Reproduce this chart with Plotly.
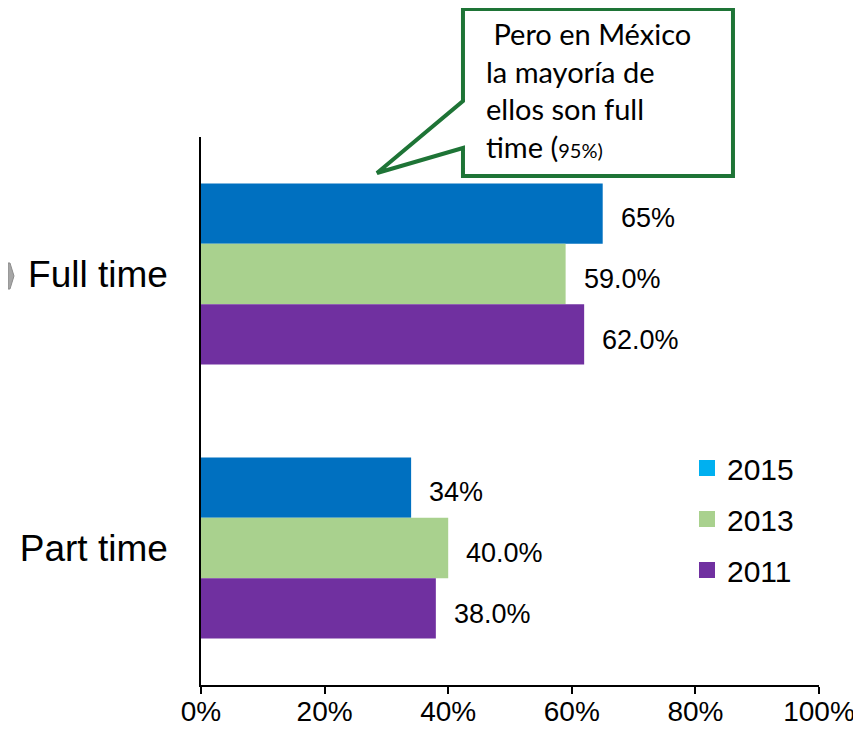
import plotly.graph_objects as go

categories = ["Full time", "Part time"]
years = ["2015", "2013", "2011"]
values_2015 = [65, 34]
values_2013 = [59.0, 40.0]
values_2011 = [62.0, 38.0]
labels_2015 = ["65%", "34%"]
labels_2013 = ["59.0%", "40.0%"]
labels_2011 = ["62.0%", "38.0%"]
x_ticks = [0, 20, 40, 60, 80, 100]
x_tick_labels = ["0%", "20%", "40%", "60%", "80%", "100%"]

bar_colors = ["#0070C0", "#A9D18E", "#7030A0"]
legend_colors = ["#00B0F0", "#A9D18E", "#7030A0"]

series = [values_2015, values_2013, values_2011]
labels = [labels_2015, labels_2013, labels_2011]

# page body has an 8px margin; compensate so the plot lands at target pixels
OFF = 8
W, H = 861 - OFF, 733 - OFF
L, R, T, B = 201, 819, 137, 685

fig = go.Figure()
for yr, vals, col in zip(years, series, bar_colors):
    fig.add_trace(go.Bar(y=categories, x=vals, orientation="h", name=yr,
                         marker=dict(color=col, line=dict(width=0)),
                         showlegend=False))

for yr, col in zip(years, legend_colors):
    fig.add_trace(go.Scatter(x=[None], y=[None], mode="markers", name=yr,
                             legendgroup=yr,
                             marker=dict(symbol="square", size=16, color=col)))

# data labels
for ti, (vals, labs) in enumerate(zip(series, labels)):
    for cat, v, lab in zip(categories, vals, labs):
        fig.add_annotation(x=v, y=cat, text=lab, showarrow=False,
                           xanchor="left", xshift=16,
                           yshift=(1 - ti) * 61 - 5,
                           font=dict(size=27, color="#000000",
                                     family="Liberation Sans, Arial, sans-serif"))

def px(xp):
    return (xp - L) / (R - L)
def py(yp):
    return (B - yp) / (B - T)

# callout box
pts = [(463, 9), (733, 9), (733, 176), (463, 176), (463, 148), (377, 173), (463, 101)]
path = "M " + " L ".join(f"{px(a):.4f},{py(b):.4f}" for a, b in pts) + " Z"
fig.add_shape(type="path", path=path, xref="paper", yref="paper",
              line=dict(color="#1E7436", width=4), fillcolor="#FFFFFF", layer="above")

fig.add_annotation(xref="paper", yref="paper", x=px(484), y=py(14),
                   xanchor="left", yanchor="top", align="left", showarrow=False,
                   text=" Pero en México<br>la mayoría de<br>ellos son full<br>time (<span style='font-size:20px'>95%)</span>",
                   font=dict(size=29, color="#000000", family="Lato, Carlito, sans-serif"))

# small gray shape at left edge
gpts = [(8, 263), (10, 263), (14, 276), (10, 289), (8, 289)]
gpath = "M " + " L ".join(f"{px(a):.4f},{py(b):.4f}" for a, b in gpts) + " Z"
fig.add_shape(type="path", path=gpath, xref="paper", yref="paper",
              line=dict(color="#8C8C8C", width=1), fillcolor="#A6A6A6")

fig.update_layout(
    width=W, height=H,
    margin=dict(l=L - OFF, r=861 - R, t=T - OFF, b=733 - B, pad=0),
    paper_bgcolor="#FFFFFF", plot_bgcolor="#FFFFFF",
    barmode="group", bargap=0.34, bargroupgap=0,
    font=dict(family="Liberation Sans, Arial, sans-serif", color="#000000"),
    showlegend=True,
    legend=dict(x=px(687), y=py(442), xanchor="left", yanchor="top",
                font=dict(size=30), bgcolor="rgba(0,0,0,0)",
                traceorder="grouped", tracegroupgap=9),
    xaxis=dict(range=[0, 100], tickvals=x_ticks, ticktext=x_tick_labels,
               automargin=False, ticklabelstandoff=-6,
               showgrid=False, zeroline=False, showline=True,
               linecolor="#000000", linewidth=1.5, ticks="outside",
               ticklen=7, tickcolor="#000000", tickwidth=1.5,
               tickfont=dict(size=28)),
    yaxis=dict(categoryorder="array", categoryarray=categories,
               autorange="reversed", automargin=False,
               showgrid=False, zeroline=False,
               showline=True, linecolor="#000000", linewidth=1.5,
               ticks="", ticklabelstandoff=24, tickfont=dict(size=37)),
)

fig.write_html("out.html")
